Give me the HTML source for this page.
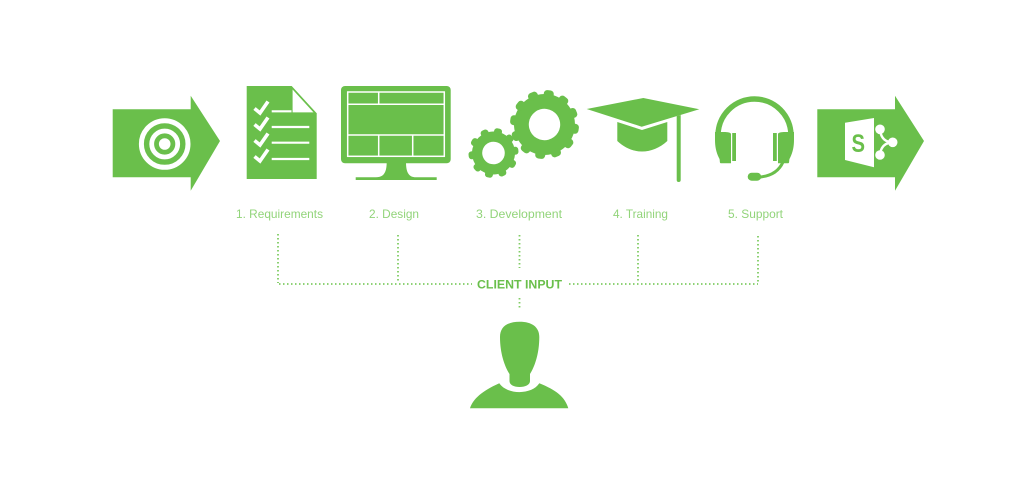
<!DOCTYPE html>
<html>
<head>
<meta charset="utf-8">
<style>
html,body{margin:0;padding:0;background:#fff;width:1024px;height:484px;overflow:hidden}
svg{display:block}
text{font-family:"Liberation Sans",sans-serif}
.l{font-size:12px;fill:#92d47a}
.d{fill:none;stroke:#7fcc63;stroke-width:1.8;stroke-dasharray:1.5 2.5}
</style>
</head>
<body>
<svg width="1024" height="484" viewBox="0 0 1024 484" xmlns="http://www.w3.org/2000/svg">
<rect width="1024" height="484" fill="#fff"/>
<g fill="#6abf4b">
  <!-- Arrow target -->
  <path d="M112.7 109.3H190.7V95.7L220 141L190.7 190.7V177.3H112.7Z"/>
  <g fill="none" stroke="#fff">
    <circle cx="164.7" cy="144" r="23.3" stroke-width="5"/>
    <circle cx="164.7" cy="144" r="13" stroke-width="4.8"/>
  </g>
  <circle cx="164.7" cy="144" r="5.8" fill="#fff"/>

  <!-- Document -->
  <path d="M246.7 86H291.7L316.7 113.3V179H246.7Z"/>
  <path d="M292.6 89.5V112.4H313.5Z" fill="#fff"/>
  <g stroke="#fff" stroke-width="2.2" fill="none">
    <path d="M271.7 111.3H291.5"/>
    <path d="M271.7 127H309.3"/>
    <path d="M271.7 142.7H309.3"/>
    <path d="M271.7 159H309.3"/>
  </g>
  <g stroke="#fff" stroke-width="3.6" fill="none">
    <path d="M254.5 108.5L260 113L268 101.5"/>
    <path d="M254.5 124.5L260 129L268 117.5"/>
    <path d="M254.5 140.5L260 145L268 133.5"/>
    <path d="M254.5 156.5L260 161L268 149.5"/>
  </g>

  <!-- Monitor -->
  <rect x="341" y="86" width="109.7" height="77.3" rx="4"/>
  <path d="M386.7 162C386.7 172 384 177.3 376 177.3H355.7V180H436.7V177.3H416C408.5 177.3 406 172 406 162Z"/>
  <g stroke="#fff" stroke-width="1.5" fill="none">
    <rect x="347.7" y="92" width="96.6" height="64.3"/>
    <path d="M347.7 104.3H444.3M347.7 135H444.3M378.7 92V104.3M378.7 135V156.3M412.7 135V156.3"/>
  </g>

  <!-- Large gear -->
  <g transform="translate(544.5 124.5) rotate(8)">
    <circle r="30.5"/>
    <rect x="-5" y="-34.5" width="10" height="8" rx="3.5"/>
    <rect x="-5" y="-34.5" width="10" height="8" rx="3.5" transform="rotate(30)"/>
    <rect x="-5" y="-34.5" width="10" height="8" rx="3.5" transform="rotate(60)"/>
    <rect x="-5" y="-34.5" width="10" height="8" rx="3.5" transform="rotate(90)"/>
    <rect x="-5" y="-34.5" width="10" height="8" rx="3.5" transform="rotate(120)"/>
    <rect x="-5" y="-34.5" width="10" height="8" rx="3.5" transform="rotate(150)"/>
    <rect x="-5" y="-34.5" width="10" height="8" rx="3.5" transform="rotate(180)"/>
    <rect x="-5" y="-34.5" width="10" height="8" rx="3.5" transform="rotate(210)"/>
    <rect x="-5" y="-34.5" width="10" height="8" rx="3.5" transform="rotate(240)"/>
    <rect x="-5" y="-34.5" width="10" height="8" rx="3.5" transform="rotate(270)"/>
    <rect x="-5" y="-34.5" width="10" height="8" rx="3.5" transform="rotate(300)"/>
    <rect x="-5" y="-34.5" width="10" height="8" rx="3.5" transform="rotate(330)"/>
    <circle r="15.7" fill="#fff"/>
  </g>
  <!-- Small gear -->
  <g transform="translate(493.5 153) rotate(12)">
    <circle r="21.5"/>
    <rect x="-4" y="-25" width="8" height="7" rx="3"/>
    <rect x="-4" y="-25" width="8" height="7" rx="3" transform="rotate(36)"/>
    <rect x="-4" y="-25" width="8" height="7" rx="3" transform="rotate(72)"/>
    <rect x="-4" y="-25" width="8" height="7" rx="3" transform="rotate(108)"/>
    <rect x="-4" y="-25" width="8" height="7" rx="3" transform="rotate(144)"/>
    <rect x="-4" y="-25" width="8" height="7" rx="3" transform="rotate(180)"/>
    <rect x="-4" y="-25" width="8" height="7" rx="3" transform="rotate(216)"/>
    <rect x="-4" y="-25" width="8" height="7" rx="3" transform="rotate(252)"/>
    <rect x="-4" y="-25" width="8" height="7" rx="3" transform="rotate(288)"/>
    <rect x="-4" y="-25" width="8" height="7" rx="3" transform="rotate(324)"/>
    <circle r="11.3" fill="#fff"/>
  </g>

  <!-- Cap -->
  <path d="M586.7 109L643.3 98L699.3 109.3L641.7 126.7Z"/>
  <path d="M617.3 122L642 130L667.3 122V141C652 155 632 155 617.3 141Z"/>
  <path d="M676.7 116L680.7 115V180A2 2 0 0 1 676.7 180Z"/>

  <!-- Headset -->
  <path d="M718 140V135.5A36.5 36.5 0 0 1 791 135.5V140" fill="none" stroke="#6abf4b" stroke-width="5.5"/>
  <path d="M715 132H723C725 132 731 132 731 134V163.3H721C719 163.3 720.5 160 719 158C716 152 715 146 715 140Z"/>
  <path d="M732.2 133H736V161H732.2Z"/>
  <path d="M794 132H786C784 132 778 132 778 134V163.3H788C790 163.3 788.5 160 790 158C793 152 794 146 794 140Z"/>
  <path d="M773 133H776.8V161H773Z"/>
  <path d="M783 162C779 171 771 176 760 177" fill="none" stroke="#6abf4b" stroke-width="3"/>
  <rect x="747.7" y="172.7" width="13.5" height="8" rx="4"/>

  <!-- Arrow SharePoint -->
  <path d="M817.3 109.3H895V95.7L924 141L895 190.7V177.3H817.3Z"/>
  <path d="M845 122.7L874 118V167.3L845 160Z" fill="#fff"/>
  <g fill="#fff">
    <circle cx="880" cy="129.3" r="4.8"/>
    <circle cx="892.7" cy="142.3" r="4.8"/>
    <circle cx="880" cy="155" r="4.8"/>
  </g>
  <path d="M880 129.3Q881 142 892.7 142.3Q881 143 880 155" fill="none" stroke="#fff" stroke-width="2.4"/>
  <text x="851.5" y="152" font-size="25" font-weight="bold" textLength="13.5" lengthAdjust="spacingAndGlyphs" style="fill:#6abf4b">S</text>

  <!-- Person -->
  <path d="M519.6 321.7C532 321.7 539.3 327 539.3 337C539.3 354 534.5 367 530 374V381C530 385 525 387 519.6 387C514 387 509.5 385 509.5 381V374C505 367 500 354 500 337C500 327 507 321.7 519.6 321.7Z"/>
  <path d="M470 408.3C473 399 482 391 499.3 383.3C507 395 532 395 539.3 383.3C556 390 565 397 568.3 408.3Z"/>
</g>

<!-- Labels -->
<text class="l" x="236" y="218" textLength="87" lengthAdjust="spacingAndGlyphs">1. Requirements</text>
<text class="l" x="369" y="218" textLength="50" lengthAdjust="spacingAndGlyphs">2. Design</text>
<text class="l" x="476" y="218" textLength="86" lengthAdjust="spacingAndGlyphs">3. Development</text>
<text class="l" x="613" y="218" textLength="55" lengthAdjust="spacingAndGlyphs">4. Training</text>
<text class="l" x="728" y="218" textLength="55" lengthAdjust="spacingAndGlyphs">5. Support</text>
<text x="477" y="288.5" font-size="12" font-weight="bold" fill="#6abf4b" textLength="85" lengthAdjust="spacingAndGlyphs">CLIENT INPUT</text>

<!-- Dotted connectors -->
<path class="d" d="M278 234V283"/>
<path class="d" d="M398 235V283"/>
<path class="d" d="M519.5 235V268"/>
<path class="d" d="M638 235V283"/>
<path class="d" d="M758 236V283"/>
<path class="d" d="M279 284H472"/>
<path class="d" d="M569 284H758"/>
<path class="d" d="M519.5 298V310"/>
</svg>
</body>
</html>
